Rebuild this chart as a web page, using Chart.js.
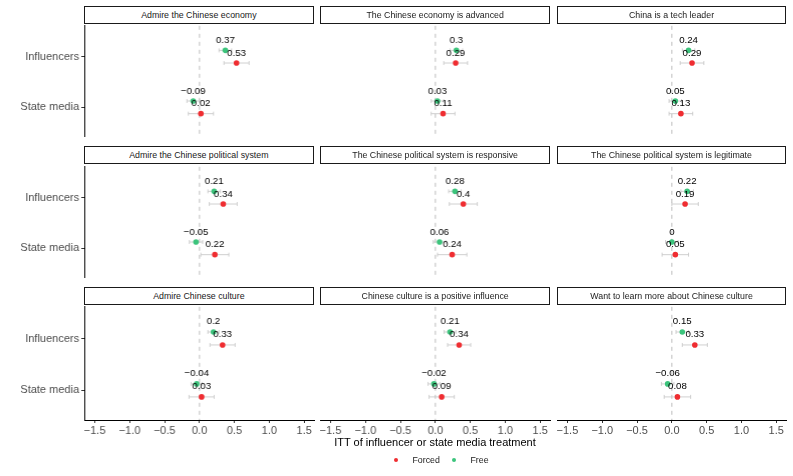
<!DOCTYPE html>
<html><head><meta charset="utf-8">
<script src="https://cdn.jsdelivr.net/npm/chart.js@4.4.1/dist/chart.umd.min.js"></script>
<style>
html,body{margin:0;padding:0;background:#fff;}
#wrap{position:relative;width:793px;height:476px;overflow:hidden;font-family:"Liberation Sans",Arial,sans-serif;background:#fff;}
.strip{position:absolute;box-sizing:border-box;border:1.1px solid #1a1a1a;background:#fff;font-size:8.8px;color:#1a1a1a;display:flex;align-items:center;justify-content:center;white-space:nowrap;z-index:2;}
.box{position:absolute;}
.xtitle{position:absolute;left:235px;width:400px;top:436px;text-align:center;font-size:11px;color:#000;}
.leg{position:absolute;top:454px;height:12px;font-size:8.8px;color:#1a1a1a;line-height:12px;}
.dot{position:absolute;width:4.6px;height:4.6px;border-radius:50%;top:457.7px;}
</style>
</head><body>
<div id="wrap"></div>
<script>
// ---------- data ----------
const panelTitles = [
  "Admire the Chinese economy", "The Chinese economy is advanced", "China is a tech leader",
  "Admire the Chinese political system", "The Chinese political system is responsive", "The Chinese political system is legitimate",
  "Admire Chinese culture", "Chinese culture is a positive influence", "Want to learn more about Chinese culture"
];
const groups = ["Influencers", "State media"];
const seriesNames = ["Forced", "Free"];
const seriesColors = ["#EF2D31", "#3CC47C"];
const forcedInfluencers = [0.53, 0.29, 0.29, 0.34, 0.40, 0.19, 0.33, 0.34, 0.33];
const forcedStateMedia  = [0.02, 0.11, 0.13, 0.22, 0.24, 0.05, 0.03, 0.09, 0.08];
const freeInfluencers   = [0.37, 0.30, 0.24, 0.21, 0.28, 0.22, 0.20, 0.21, 0.15];
const freeStateMedia    = [-0.09, 0.03, 0.05, -0.05, 0.06, 0.00, -0.04, -0.02, -0.06];
const forcedCIInfluencers = [0.18, 0.17, 0.17, 0.20, 0.20, 0.19, 0.18, 0.165, 0.18];
const forcedCIStateMedia  = [0.18, 0.17, 0.17, 0.20, 0.21, 0.19, 0.18, 0.18, 0.19];
const freeCIInfluencers   = [0.09, 0.09, 0.09, 0.09, 0.09, 0.09, 0.08, 0.085, 0.09];
const freeCIStateMedia    = [0.09, 0.09, 0.09, 0.095, 0.09, 0.09, 0.08, 0.085, 0.09];
const xTicks = [-1.5, -1.0, -0.5, 0.0, 0.5, 1.0, 1.5];

// ---------- layout ----------
const FONT = "'Liberation Sans', Arial, sans-serif";
const plotLeft = [84, 320.3, 556.7];
const plotW = 229.7;
const plotTop = [23.2, 163.6, 304];
const plotH = 116;
const stripH = 17.2;
const padSide = 10;
const xAxisH = 30;
const groupPos = [2, 1];   // Influencers on top
const dodge = { Forced: -0.125, Free: 0.125 };
const labelNudge = 0.2;

function fmtLabel(v) {
  let s = String(Math.round(v * 100) / 100);
  return s.replace('-', '\u2212');
}
function fmtTick(v) { return v.toFixed(1).replace('-', '\u2212'); }

const wrap = document.getElementById('wrap');

const zeroLine = {
  id: 'zeroLine',
  beforeDatasetsDraw(chart) {
    const { ctx, chartArea } = chart;
    const x = chart.scales.x.getPixelForValue(0);
    ctx.save();
    ctx.strokeStyle = '#BDBDBD';
    ctx.lineWidth = 1;
    ctx.setLineDash([4, 4]);
    ctx.beginPath();
    ctx.moveTo(x, chartArea.top);
    ctx.lineTo(x, chartArea.bottom);
    ctx.stroke();
    ctx.restore();
  }
};
const errBars = {
  id: 'errBars',
  beforeDatasetsDraw(chart) {
    const { ctx } = chart;
    const xs = chart.scales.x, ys = chart.scales.y;
    ctx.save();
    ctx.strokeStyle = '#C4C4C4';
    ctx.lineWidth = 0.8;
    chart.data.datasets.forEach(ds => {
      ds.data.forEach(p => {
        const y = ys.getPixelForValue(p.y);
        const x0 = xs.getPixelForValue(p.x - p.ci), x1 = xs.getPixelForValue(p.x + p.ci);
        ctx.beginPath();
        ctx.moveTo(x0, y); ctx.lineTo(x1, y);
        ctx.moveTo(x0, y - 2); ctx.lineTo(x0, y + 2);
        ctx.moveTo(x1, y - 2); ctx.lineTo(x1, y + 2);
        ctx.stroke();
      });
    });
    ctx.restore();
  }
};
const valueLabels = {
  id: 'valueLabels',
  afterDatasetsDraw(chart) {
    const { ctx } = chart;
    const xs = chart.scales.x, ys = chart.scales.y;
    ctx.save();
    ctx.fillStyle = '#000';
    ctx.font = "9.7px " + FONT;
    ctx.textAlign = 'center';
    ctx.textBaseline = 'middle';
    chart.data.datasets.forEach(ds => {
      ds.data.forEach(p => {
        ctx.fillText(fmtLabel(p.x), xs.getPixelForValue(p.x), ys.getPixelForValue(p.y + labelNudge));
      });
    });
    ctx.restore();
  }
};

for (let i = 0; i < 9; i++) {
  const r = Math.floor(i / 3), c = i % 3;
  const st = document.createElement('div');
  st.className = 'strip';
  st.style.left = plotLeft[c] + 'px';
  st.style.top = (plotTop[r] - stripH) + 'px';
  st.style.width = plotW + 'px';
  st.style.height = (stripH + 0.6) + 'px';
  st.textContent = panelTitles[i];
  wrap.appendChild(st);

  const showY = c === 0, showX = r === 2;
  const cLeft = showY ? 0 : plotLeft[c] - padSide;
  const cW = plotLeft[c] + plotW + padSide - cLeft;
  const cTop = plotTop[r];
  const cH = plotH + (showX ? xAxisH : 0);
  const box = document.createElement('div');
  box.className = 'box';
  box.style.left = cLeft + 'px'; box.style.top = cTop + 'px';
  box.style.width = cW + 'px'; box.style.height = cH + 'px';
  const cv = document.createElement('canvas');
  box.appendChild(cv);
  wrap.appendChild(box);

  const forcedData = [
    { x: forcedInfluencers[i], y: groupPos[0] + dodge.Forced, ci: forcedCIInfluencers[i] },
    { x: forcedStateMedia[i], y: groupPos[1] + dodge.Forced, ci: forcedCIStateMedia[i] }
  ];
  const freeData = [
    { x: freeInfluencers[i], y: groupPos[0] + dodge.Free, ci: freeCIInfluencers[i] },
    { x: freeStateMedia[i], y: groupPos[1] + dodge.Free, ci: freeCIStateMedia[i] }
  ];

  new Chart(cv, {
    type: 'scatter',
    data: {
      datasets: [
        { label: seriesNames[1], data: freeData, backgroundColor: seriesColors[1], pointRadius: 2.8, borderWidth: 0, pointHoverRadius: 2.8 },
        { label: seriesNames[0], data: forcedData, backgroundColor: seriesColors[0], pointRadius: 2.8, borderWidth: 0, pointHoverRadius: 2.8 }
      ]
    },
    options: {
      responsive: true, maintainAspectRatio: false, animation: false,
      events: [],
      layout: { padding: { left: showY ? 0 : padSide, right: padSide, top: 0, bottom: 0 } },
      plugins: { legend: { display: false }, tooltip: { enabled: false } },
      scales: {
        x: {
          type: 'linear', min: -1.65, max: 1.65, display: showX,
          afterBuildTicks: s => { s.ticks = xTicks.map(v => ({ value: v })); },
          afterFit: s => { if (showX) s.height = xAxisH; s.paddingLeft = 0; s.paddingRight = 0; s.paddingTop = 0; s.paddingBottom = 0; },
          ticks: { callback: v => fmtTick(v), font: { size: 11, family: FONT }, color: '#4D4D4D', padding: 1, maxRotation: 0, autoSkip: false },
          grid: { drawOnChartArea: false, drawTicks: true, tickLength: 3, tickColor: '#333', tickWidth: 1 },
          border: { display: true, color: '#000', width: 1 }
        },
        y: {
          type: 'linear', min: 0.43, max: 2.61, display: showY, position: 'left',
          afterBuildTicks: s => { s.ticks = groupPos.map(v => ({ value: v })); },
          afterFit: s => { if (showY) s.width = plotLeft[0]; s.paddingLeft = 0; s.paddingRight = 0; s.paddingTop = 0; s.paddingBottom = 0; },
          ticks: { callback: v => groups[groupPos.indexOf(v)], font: { size: 11, family: FONT }, color: '#4D4D4D', padding: 2 },
          grid: { drawOnChartArea: false, drawTicks: true, tickLength: 3, tickColor: '#333', tickWidth: 1 },
          border: { display: true, color: '#000', width: 1 }
        }
      }
    },
    plugins: [zeroLine, errBars, valueLabels]
  });
}

const xt = document.createElement('div');
xt.className = 'xtitle';
xt.textContent = 'ITT of influencer or state media treatment';
wrap.appendChild(xt);
const legItems = [
  { name: seriesNames[0], color: seriesColors[0], dotX: 393.5, textX: 412.5 },
  { name: seriesNames[1], color: seriesColors[1], dotX: 451.8, textX: 470.5 }
];
legItems.forEach(it => {
  const d = document.createElement('div');
  d.className = 'dot'; d.style.left = it.dotX + 'px'; d.style.background = it.color;
  wrap.appendChild(d);
  const t = document.createElement('div');
  t.className = 'leg'; t.style.left = it.textX + 'px'; t.textContent = it.name;
  wrap.appendChild(t);
});
</script>
</body></html>
